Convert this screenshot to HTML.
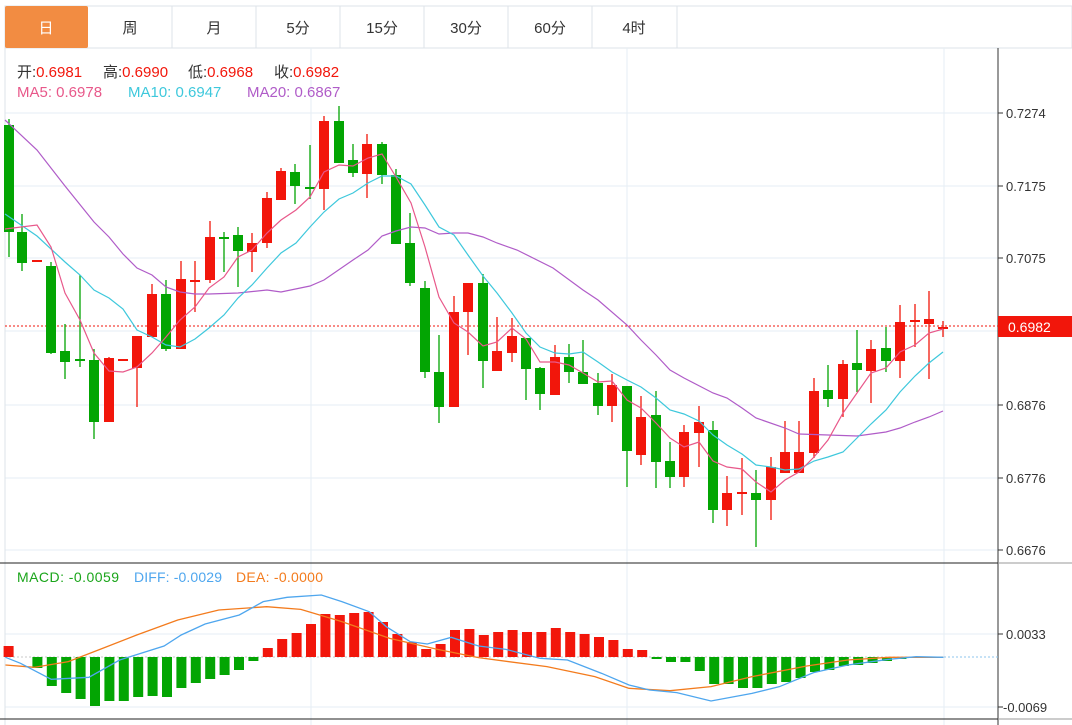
<!DOCTYPE html>
<html><head><meta charset="utf-8"><style>
body{margin:0;background:#fff;width:1072px;height:725px;overflow:hidden;font-family:"Liberation Sans","Noto Sans CJK SC",sans-serif}
svg{position:absolute;left:0;top:0}
</style></head><body>
<svg width="1072" height="725" xmlns="http://www.w3.org/2000/svg" font-family="Liberation Sans, Noto Sans CJK SC, sans-serif">
<rect x="5" y="6" width="1067" height="42" fill="#fff" stroke="#dde3e8"/>
<rect x="5" y="6" width="83" height="42" fill="#f28c42" rx="2"/>
<g stroke="#dde3e8"><line x1="172" y1="6" x2="172" y2="48"/><line x1="256" y1="6" x2="256" y2="48"/><line x1="340" y1="6" x2="340" y2="48"/><line x1="424" y1="6" x2="424" y2="48"/><line x1="508" y1="6" x2="508" y2="48"/><line x1="592" y1="6" x2="592" y2="48"/><line x1="677" y1="6" x2="677" y2="48"/></g>
<g font-size="15" text-anchor="middle" fill="#333"><text x="46" y="33" fill="#fff">日</text><text x="130" y="33">周</text><text x="214" y="33">月</text><text x="298" y="33">5分</text><text x="382" y="33">15分</text><text x="466" y="33">30分</text><text x="550" y="33">60分</text><text x="634" y="33">4时</text></g>
<g stroke="#e6eef4" stroke-width="1"><line x1="5" y1="113" x2="998" y2="113"/><line x1="5" y1="186" x2="998" y2="186"/><line x1="5" y1="258" x2="998" y2="258"/><line x1="5" y1="331" x2="998" y2="331"/><line x1="5" y1="405" x2="998" y2="405"/><line x1="5" y1="478" x2="998" y2="478"/><line x1="5" y1="550" x2="998" y2="550"/><line x1="5" y1="634" x2="998" y2="634"/><line x1="5" y1="707" x2="998" y2="707"/><line x1="311" y1="48" x2="311" y2="725"/><line x1="627" y1="48" x2="627" y2="725"/><line x1="944" y1="48" x2="944" y2="725"/></g>
<line x1="5" y1="48" x2="5" y2="725" stroke="#dde3e8"/>
<line x1="998" y1="48" x2="998" y2="725" stroke="#333"/>
<line x1="0" y1="563" x2="998" y2="563" stroke="#222"/><line x1="998" y1="563" x2="1072" y2="563" stroke="#999"/>
<line x1="0" y1="719" x2="998" y2="719" stroke="#222"/><line x1="998" y1="719" x2="1072" y2="719" stroke="#999"/>
<g font-size="15" fill="#333">
<text x="17" y="77">开:<tspan fill="#f2160b">0.6981</tspan></text>
<text x="103" y="77">高:<tspan fill="#f2160b">0.6990</tspan></text>
<text x="188" y="77">低:<tspan fill="#f2160b">0.6968</tspan></text>
<text x="274" y="77">收:<tspan fill="#f2160b">0.6982</tspan></text>
<text x="17" y="97" fill="#e8588a">MA5: 0.6978</text>
<text x="128" y="97" fill="#3ec8dc">MA10: 0.6947</text>
<text x="247" y="97" fill="#b05cc8">MA20: 0.6867</text>
</g>
<g font-size="14">
<text x="17" y="582" fill="#1aa51a" textLength="102">MACD: -0.0059</text>
<text x="134" y="582" fill="#4ea6ee" textLength="88">DIFF: -0.0029</text>
<text x="236" y="582" fill="#f37b1d" textLength="87">DEA: -0.0000</text>
</g>
<g font-size="13" fill="#333"><g stroke="#333"><line x1="998" y1="113" x2="1003" y2="113"/><line x1="998" y1="186" x2="1003" y2="186"/><line x1="998" y1="258" x2="1003" y2="258"/><line x1="998" y1="405" x2="1003" y2="405"/><line x1="998" y1="478" x2="1003" y2="478"/><line x1="998" y1="550" x2="1003" y2="550"/><line x1="998" y1="634" x2="1003" y2="634"/><line x1="998" y1="707" x2="1003" y2="707"/></g>
<text x="1006" y="118">0.7274</text><text x="1006" y="191">0.7175</text><text x="1006" y="263">0.7075</text><text x="1006" y="410">0.6876</text><text x="1006" y="483">0.6776</text><text x="1006" y="555">0.6676</text><text x="1006" y="639">0.0033</text><text x="1003" y="712">-0.0069</text></g>
<line x1="5" y1="326" x2="998" y2="326" stroke="#f2160b" stroke-dasharray="2,2"/>
<rect x="998" y="316" width="74" height="21" fill="#f2160b"/><text x="1008" y="332" font-size="14" fill="#fff">0.6982</text>
<line x1="944" y1="657" x2="998" y2="657" stroke="#8cc4ec" stroke-dasharray="2,2"/>
<line x1="5" y1="657" x2="944" y2="657" stroke="#c8c8c8" stroke-dasharray="2,2"/>
<g id="c" stroke-width="1.2"></g>
<g fill="none" stroke-width="1.2">
<polyline stroke="#b05cc8" points="5,120 37,150 65,186 94,222 109,237 123,254 137,268 152,275 166,287 180,292 195,294 209,294 238,293 267,290 281,292 310,286 324,280 353,260 368,250 382,236 396,231 411,227 425,228 439,234 454,233 468,233 483,237 497,243 517,250 553,268 583,290 598,300 627,325 641,340 656,355 670,370 684,378 713,393 727,398 742,408 756,418 785,428 799,434 828,435 857,436 886,432 900,428 915,422 929,417 943,411"/>
<polyline stroke="#3ec8dc" points="5,214 37,236 65,262 80,275 94,290 109,298 123,309 137,330 152,337 166,345 180,347 195,339 209,328 224,315 238,298 252,285 267,268 281,253 296,243 310,227 324,212 339,199 353,193 368,183 382,176 396,176 411,184 425,205 439,227 454,235 468,255 483,276 497,293 512,313 526,333 540,347 555,353 569,354 583,352 598,362 612,372 627,380 641,387 656,398 670,410 684,414 699,421 713,435 727,445 742,454 756,465 771,467 785,470 799,469 814,461 828,457 843,452 857,438 871,424 886,410 900,392 915,376 929,363 943,352"/>
<polyline stroke="#e8588a" points="5,229 37,225 51,247 65,293 80,320 94,353 109,371 123,372 137,367 152,353 166,337 180,320 195,307 209,288 224,277 238,257 252,250 267,233 281,220 296,210 310,197 324,172 339,165 353,166 368,158 382,154 396,177 411,203 425,247 439,297 454,323 468,332 483,346 497,342 512,328 526,339 540,362 555,362 569,365 583,373 598,382 612,381 627,400 641,408 656,423 670,438 684,447 699,442 713,461 727,467 742,469 756,482 771,492 785,480 799,472 814,457 828,440 843,413 857,393 871,373 886,368 900,352 915,345 929,333 943,329"/>
</g>
<g id="h"></g>
<g transform="translate(0,560) scale(0.68367,0.33333)" fill="none" stroke-width="1.3">
<polyline vector-effect="non-scaling-stroke" stroke="#f37b1d" points="8,315 50,322 100,305 150,265 200,225 260,180 320,150 390,140 440,148 500,185 570,235 640,268 700,293 800,320 870,350 920,385 980,392 1040,380 1100,350 1180,318 1240,300 1300,292 1380,292"/>
<polyline vector-effect="non-scaling-stroke" stroke="#4ea6ee" points="8,292 30,310 75,358 130,352 175,300 240,258 265,225 300,192 350,165 385,125 420,112 470,105 500,125 540,155 565,200 600,245 625,252 660,232 700,258 740,268 790,295 830,300 880,340 920,375 950,390 990,398 1040,423 1100,400 1140,380 1190,338 1240,315 1300,298 1340,290 1380,292"/>
</g>
</svg>
<script>
var C=[[9,'g',125,232,119,257],[22,'g',232,263,214,271],[37,'r',260,262,260,262],[51,'g',266,353,262,354],[65,'g',351,362,324,379],[80,'g',359,361,275,367],[94,'g',360,422,349,439],[109,'r',358,422,357,422],[123,'r',359,361,359,361],[137,'r',336,368,336,407],[152,'r',294,337,284,337],[166,'g',294,349,280,351],[181,'r',279,349,261,349],[195,'r',280,282,261,312],[210,'r',237,280,221,283],[224,'g',237,239,232,272],[238,'g',235,251,227,287],[252,'r',243,252,233,272],[267,'r',198,243,192,248],[281,'r',171,200,168,200],[295,'g',172,186,164,204],[310,'g',187,189,145,199],[324,'r',121,189,116,210],[339,'g',121,163,106,163],[353,'g',160,173,144,177],[367,'r',144,174,134,198],[382,'g',144,175,142,184],[396,'g',175,244,169,244],[410,'g',243,283,213,286],[425,'g',288,372,281,378],[439,'g',372,407,335,423],[454,'r',312,407,296,407],[468,'r',283,312,283,355],[483,'g',283,361,274,388],[497,'r',351,371,317,371],[512,'r',336,353,318,362],[526,'g',338,369,338,400],[540,'g',368,394,367,410],[555,'r',357,395,345,395],[569,'g',357,372,344,383],[583,'g',372,384,340,384],[598,'g',383,406,373,415],[612,'r',385,406,374,422],[627,'g',386,451,386,487],[641,'r',417,455,396,465],[656,'g',415,462,391,488],[670,'g',461,477,442,488],[684,'r',432,477,425,487],[699,'r',422,433,406,467],[713,'g',430,510,421,523],[727,'r',493,510,476,526],[742,'r',492,494,458,515],[756,'g',493,500,470,547],[771,'r',467,500,457,520],[785,'r',452,473,421,473],[799,'r',452,473,421,473],[814,'r',391,453,378,458],[828,'g',390,399,365,407],[843,'r',364,399,360,417],[857,'g',363,370,330,392],[871,'r',349,371,340,403],[886,'g',348,361,327,372],[900,'r',322,361,305,378],[915,'r',320,322,304,347],[929,'r',319,324,291,379],[943,'r',327,329,321,337]];
var R='#f2160b',G='#03a503',s='';
C.forEach(function(c){var col=c[1]=='r'?R:G;s+='<line x1="'+c[0]+'" x2="'+c[0]+'" y1="'+c[4]+'" y2="'+c[5]+'" stroke="'+col+'" stroke-width="1.3"/>';var h=Math.max(c[3]-c[2],1.5);s+='<rect x="'+(c[0]-5)+'" y="'+c[2]+'" width="10" height="'+h+'" fill="'+col+'"/>';});
document.getElementById('c').innerHTML=s;
var H=[646,null,668,686,693,699,706,701,701,697,696,697,688,683,679,675,670,661,648,639,633,624,614,615,613,612,622,634,642,649,644,630,629,635,632,630,632,632,628,632,634,637,640,649,650,659,662,662,671,684,684,688,688,684,682,678,672,670,666,665,663,661,659];
var t='';H.forEach(function(y,i){if(y===null)return;var x=8.6+14.4*i;var z=657;var col=y<z?R:G;var top=Math.min(y,z),h=Math.max(Math.abs(y-z),1);t+='<rect x="'+(x-5)+'" y="'+top+'" width="10" height="'+h+'" fill="'+col+'"/>';});
document.getElementById('h').innerHTML=t;
</script>
</body></html>
